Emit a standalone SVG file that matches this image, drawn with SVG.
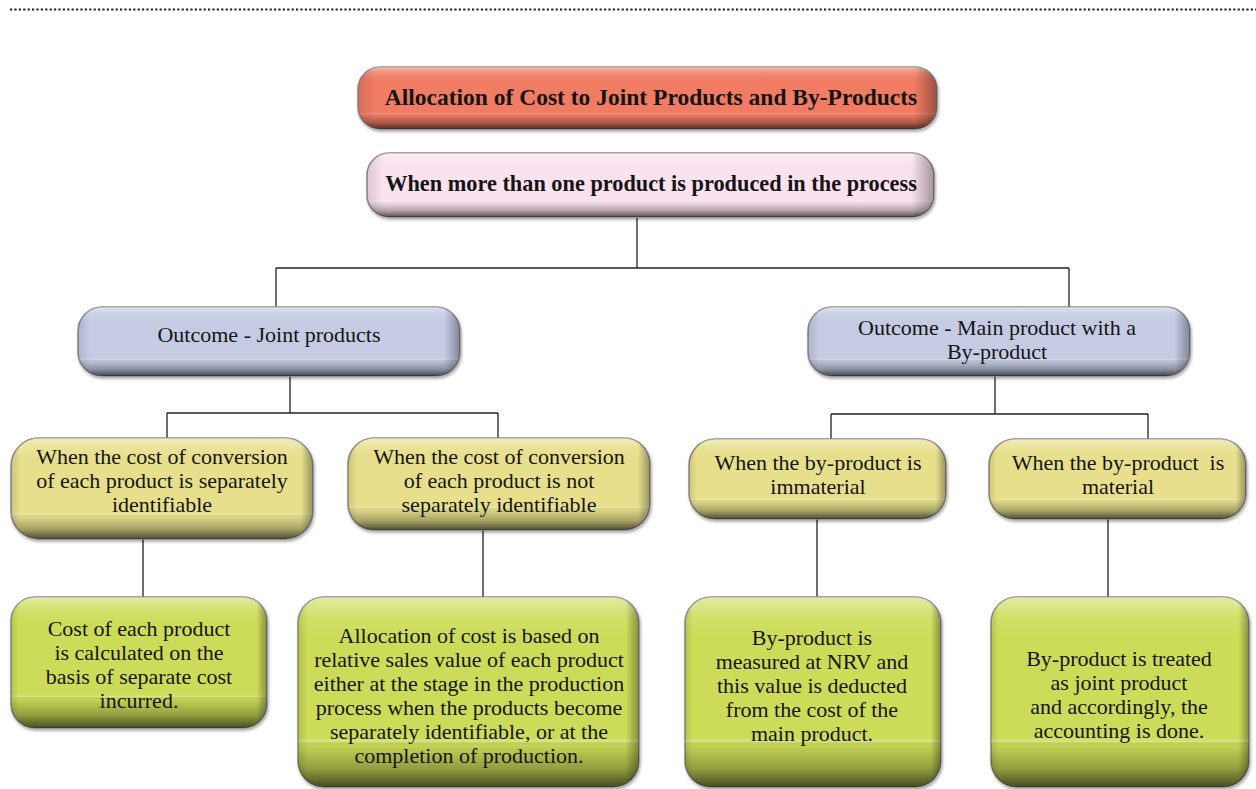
<svg xmlns="http://www.w3.org/2000/svg" width="1256" height="789" viewBox="0 0 1256 789">
<defs>
<linearGradient id="shadeV" x1="0" y1="0" x2="0" y2="1">
<stop offset="0" stop-color="#fff" stop-opacity="0.45"/>
<stop offset="0.1" stop-color="#fff" stop-opacity="0.12"/>
<stop offset="0.2" stop-color="#fff" stop-opacity="0"/>
<stop offset="0.74" stop-color="#fff" stop-opacity="0"/>
<stop offset="0.76" stop-color="#fff" stop-opacity="0.25"/>
<stop offset="0.78" stop-color="#000" stop-opacity="0.04"/>
<stop offset="0.9" stop-color="#000" stop-opacity="0.28"/>
<stop offset="1" stop-color="#000" stop-opacity="0.65"/>
</linearGradient>
<linearGradient id="shadeH" x1="0" y1="0" x2="1" y2="0">
<stop offset="0" stop-color="#000" stop-opacity="0.12"/>
<stop offset="0.03" stop-color="#000" stop-opacity="0"/>
<stop offset="0.96" stop-color="#000" stop-opacity="0"/>
<stop offset="1" stop-color="#000" stop-opacity="0.35"/>
</linearGradient>
<filter id="sh" x="-5%" y="-10%" width="110%" height="125%">
<feGaussianBlur in="SourceAlpha" stdDeviation="1.5"/>
<feOffset dx="1" dy="2" result="b"/>
<feComponentTransfer><feFuncA type="linear" slope="0.35"/></feComponentTransfer>
<feMerge><feMergeNode/><feMergeNode in="SourceGraphic"/></feMerge>
</filter>
</defs>
<style>
.base{stroke:#8a8a8a;stroke-width:1.5;filter:url(#sh)}
.ov1{fill:url(#shadeV)}
.ov2{fill:url(#shadeH)}
.red{fill:#f07c64}
.pink{fill:#fbe2ee}
.blue{fill:#c4cbe3}
.yel{fill:#e7df8c}
.grn{fill:#cddc58}
text{font-family:"Liberation Serif","Times New Roman",serif;font-size:22px;fill:#151515;text-anchor:middle}
.b{font-weight:bold;font-size:22.3px}
.t{font-size:23.5px}
.conn{stroke:#222;stroke-width:1.3;fill:none}
.dots{stroke:#222;stroke-width:2.2;stroke-dasharray:2.2 2.2;fill:none}
</style>
<path class="dots" d="M10 9.5 H1256"/>
<g id="connectors">
<path class="conn" d="M637 218 V268 M276 268 H1069 M276 268 V307 M1069 268 V307"/>
<path class="conn" d="M290 376 V413 M167 413 H498 M167 413 V438 M498 413 V438"/>
<path class="conn" d="M995 376 V414 M831 414 H1148 M831 414 V440 M1148 414 V440"/>
<path class="conn" d="M143 539 V597 M483 530 V597 M817 519 V597 M1108 519 V597"/>
</g>
<g id="title">
<rect class="base red" x="358" y="67" width="579" height="62" rx="22"/>
<rect class="ov1" x="358" y="67" width="579" height="62" rx="22"/>
<rect class="ov2" x="358" y="67" width="579" height="62" rx="22"/>
<text class="b t" x="651" y="105">Allocation of Cost to Joint Products and By-Products</text>
</g>
<g id="multi">
<rect class="base pink" x="367" y="153" width="567" height="64" rx="22"/>
<rect class="ov1" x="367" y="153" width="567" height="64" rx="22"/>
<rect class="ov2" x="367" y="153" width="567" height="64" rx="22"/>
<text class="b" x="651" y="191">When more than one product is produced in the process</text>
</g>
<g id="joint">
<rect class="base blue" x="78" y="307" width="382" height="69" rx="24"/>
<rect class="ov1" x="78" y="307" width="382" height="69" rx="24"/>
<rect class="ov2" x="78" y="307" width="382" height="69" rx="24"/>
<text x="269" y="342">Outcome - Joint products</text>
</g>
<g id="mainby">
<rect class="base blue" x="808" y="307" width="382" height="69" rx="24"/>
<rect class="ov1" x="808" y="307" width="382" height="69" rx="24"/>
<rect class="ov2" x="808" y="307" width="382" height="69" rx="24"/>
<text x="997" y="335">Outcome - Main product with a</text>
<text x="997" y="359">By-product</text>
</g>
<g id="sepid">
<rect class="base yel" x="11" y="438" width="302" height="101" rx="28"/>
<rect class="ov1" x="11" y="438" width="302" height="101" rx="28"/>
<rect class="ov2" x="11" y="438" width="302" height="101" rx="28"/>
<text x="162" y="464">When the cost of conversion</text>
<text x="162" y="488">of each product is separately</text>
<text x="162" y="512">identifiable</text>
</g>
<g id="notsepid">
<rect class="base yel" x="348" y="438" width="302" height="92" rx="26"/>
<rect class="ov1" x="348" y="438" width="302" height="92" rx="26"/>
<rect class="ov2" x="348" y="438" width="302" height="92" rx="26"/>
<text x="499" y="464">When the cost of conversion</text>
<text x="499" y="488">of each product is not</text>
<text x="499" y="512">separately identifiable</text>
</g>
<g id="immaterial">
<rect class="base yel" x="689" y="439" width="257" height="80" rx="26"/>
<rect class="ov1" x="689" y="439" width="257" height="80" rx="26"/>
<rect class="ov2" x="689" y="439" width="257" height="80" rx="26"/>
<text x="818" y="470">When the by-product is</text>
<text x="818" y="494">immaterial</text>
</g>
<g id="material">
<rect class="base yel" x="989" y="439" width="257" height="80" rx="26"/>
<rect class="ov1" x="989" y="439" width="257" height="80" rx="26"/>
<rect class="ov2" x="989" y="439" width="257" height="80" rx="26"/>
<text x="1118" y="470" xml:space="preserve">When the by-product  is</text>
<text x="1118" y="494">material</text>
</g>
<g id="separate">
<rect class="base grn" x="11" y="597" width="256" height="131" rx="24"/>
<rect class="ov1" x="11" y="597" width="256" height="131" rx="24"/>
<rect class="ov2" x="11" y="597" width="256" height="131" rx="24"/>
<text x="139" y="636">Cost of each product</text>
<text x="139" y="660">is calculated on the</text>
<text x="139" y="684">basis of separate cost</text>
<text x="139" y="708">incurred.</text>
</g>
<g id="relative">
<rect class="base grn" x="298" y="597" width="341" height="190" rx="26"/>
<rect class="ov1" x="298" y="597" width="341" height="190" rx="26"/>
<rect class="ov2" x="298" y="597" width="341" height="190" rx="26"/>
<text x="469" y="643">Allocation of cost is based on</text>
<text x="469" y="667">relative sales value of each product</text>
<text x="469" y="691">either at the stage in the production</text>
<text x="469" y="715">process when the products become</text>
<text x="469" y="739">separately identifiable, or at the</text>
<text x="469" y="763">completion of production.</text>
</g>
<g id="nrv">
<rect class="base grn" x="685" y="597" width="256" height="190" rx="26"/>
<rect class="ov1" x="685" y="597" width="256" height="190" rx="26"/>
<rect class="ov2" x="685" y="597" width="256" height="190" rx="26"/>
<text x="812" y="645">By-product is</text>
<text x="812" y="669">measured at NRV and</text>
<text x="812" y="693">this value is deducted</text>
<text x="812" y="717">from the cost of the</text>
<text x="812" y="741">main product.</text>
</g>
<g id="treated">
<rect class="base grn" x="991" y="597" width="258" height="190" rx="26"/>
<rect class="ov1" x="991" y="597" width="258" height="190" rx="26"/>
<rect class="ov2" x="991" y="597" width="258" height="190" rx="26"/>
<text x="1119" y="666">By-product is treated</text>
<text x="1119" y="690">as joint product</text>
<text x="1119" y="714">and accordingly, the</text>
<text x="1119" y="738">accounting is done.</text>
</g>
</svg>
